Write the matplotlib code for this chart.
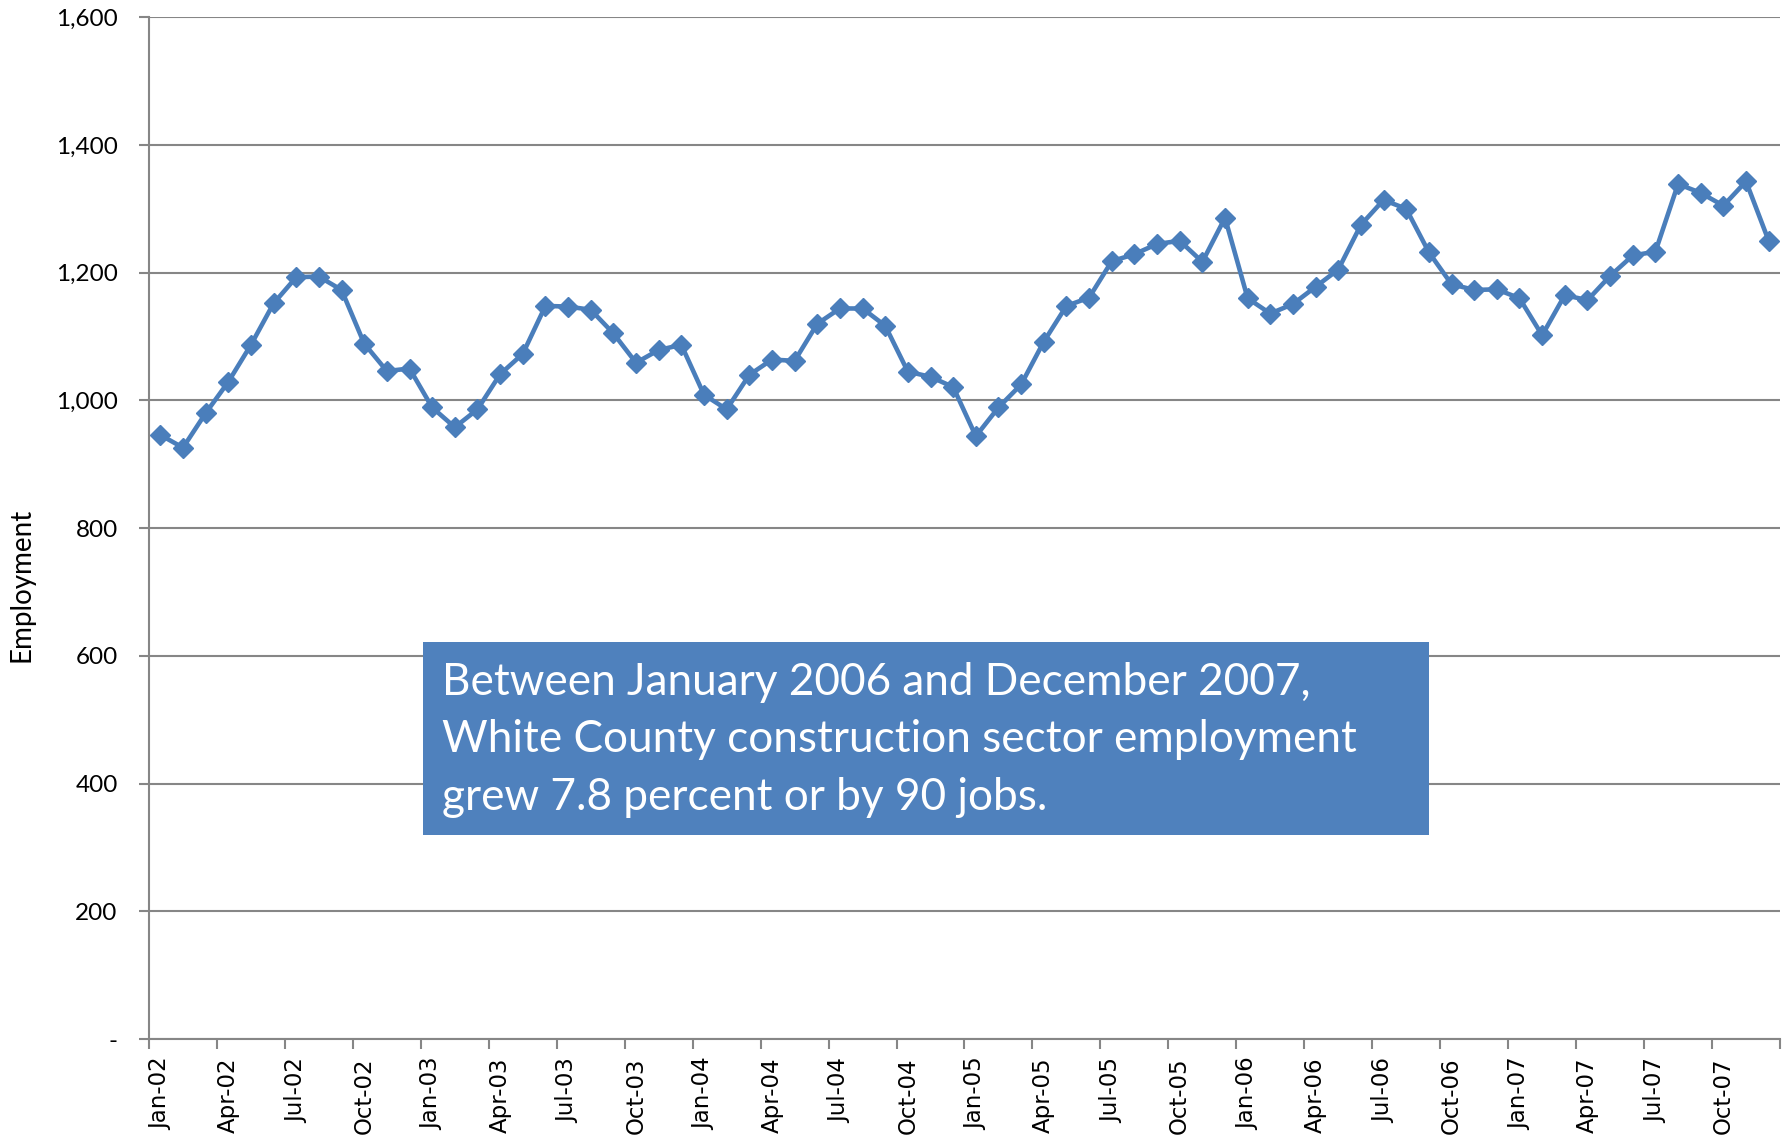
import matplotlib
matplotlib.use("Agg")
import matplotlib.pyplot as plt
from matplotlib.patches import Rectangle

values = [
    946, 926, 980, 1029, 1087, 1152, 1193, 1194, 1173, 1089, 1046, 1050,
    989, 958, 986, 1041, 1073, 1148, 1147, 1142, 1105, 1059, 1079, 1087,
    1009, 986, 1040, 1064, 1062, 1120, 1144, 1144, 1117, 1045, 1037, 1021,
    944, 989, 1025, 1092, 1148, 1161, 1218, 1229, 1245, 1250, 1217, 1286,
    1160, 1136, 1151, 1178, 1205, 1275, 1314, 1300, 1232, 1182, 1173, 1174,
    1160, 1102, 1165, 1157, 1195, 1227, 1233, 1339, 1325, 1305, 1343, 1250,
]
x_tick_labels = ["Jan-02", "Apr-02", "Jul-02", "Oct-02",
                 "Jan-03", "Apr-03", "Jul-03", "Oct-03",
                 "Jan-04", "Apr-04", "Jul-04", "Oct-04",
                 "Jan-05", "Apr-05", "Jul-05", "Oct-05",
                 "Jan-06", "Apr-06", "Jul-06", "Oct-06",
                 "Jan-07", "Apr-07", "Jul-07", "Oct-07"]
y_ticks = [0, 200, 400, 600, 800, 1000, 1200, 1400, 1600]
y_tick_labels = ["-", "200", "400", "600", "800", "1,000", "1,200", "1,400", "1,600"]
annotation = ("Between January 2006 and December 2007,\n"
              "White County construction sector employment\n"
              "grew 7.8 percent or by 90 jobs.")
y_label = "Employment"

line_color = "#4A7EBB"
grid_color = "#868686"

fig = plt.figure(figsize=(17.91, 11.39), dpi=100)
ax = fig.add_axes([149 / 1791, 1 - 1039 / 1139, (1780 - 149) / 1791, (1039 - 17.3) / 1139])

xs = list(range(len(values)))
ax.plot(xs, values, color=line_color, linewidth=3.3, marker="D", markersize=10,
        markerfacecolor=line_color, markeredgecolor=line_color, zorder=3)

ax.set_xlim(-0.5, len(values) - 0.5)
ax.set_ylim(0, 1600)

# y axis
ax.set_yticks(y_ticks)
ax.set_yticklabels(y_tick_labels, fontname="Lato", fontsize=17.5)
ax.yaxis.grid(True, color=grid_color, linewidth=1.5)
ax.set_axisbelow(True)

# x axis: tick marks between categories, labels at category centers
major_pos = [i - 0.5 for i in range(0, len(values) + 1, 3)]
minor_pos = list(range(0, len(values), 3))
ax.set_xticks(major_pos)
ax.set_xticklabels([])
ax.set_xticks(minor_pos, minor=True)
ax.set_xticklabels(x_tick_labels, minor=True, rotation=90, fontname="DejaVu Sans",
                   fontsize=16.5)
ax.tick_params(axis="x", which="major", direction="out", length=7, width=1.5,
               color=grid_color)
ax.tick_params(axis="x", which="minor", length=0, pad=13.5)
ax.tick_params(axis="y", direction="out", length=7, width=1.5, color=grid_color, pad=15.5)

for s in ["top", "right"]:
    ax.spines[s].set_visible(False)
for s in ["left", "bottom"]:
    ax.spines[s].set_color(grid_color)
    ax.spines[s].set_linewidth(1.5)

fig.text(22 / 1791, 1 - 585 / 1139, y_label, rotation=90, ha="center", va="center",
         fontname="Lato", fontsize=20)

# annotation box
box = Rectangle((422.6 / 1791, 1 - 835 / 1139), (1429 - 422.6) / 1791, (835 - 642) / 1139,
                transform=fig.transFigure, facecolor="#4F81BD", edgecolor="none", zorder=5)
fig.patches.append(box)
fig.text(442 / 1791, 1 - 740 / 1139, annotation, ha="left", va="center", color="white",
         fontname="Lato", fontsize=31.8, linespacing=1.5, zorder=6)

fig.savefig("out.png", dpi=100)
